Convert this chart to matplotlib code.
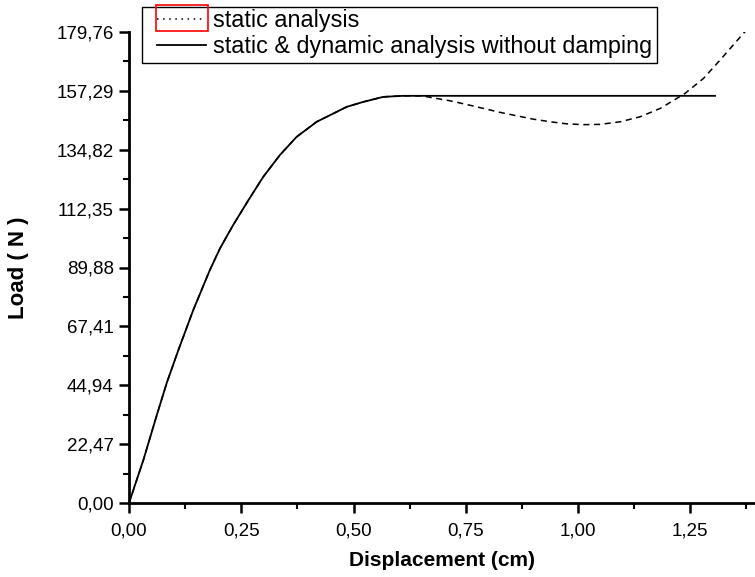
import matplotlib
matplotlib.use("Agg")
import matplotlib.pyplot as plt
from matplotlib.patches import Rectangle
from matplotlib.ticker import FixedLocator, MultipleLocator

# === DATA ===
rise_x = [0.0, 0.032, 0.062, 0.084, 0.110, 0.143, 0.180, 0.203, 0.232, 0.266,
          0.299, 0.336, 0.373, 0.418, 0.485, 0.522, 0.566, 0.610, 0.652]
rise_y = [0.0, 16.4, 33.6, 45.8, 58.4, 73.6, 88.9, 97.3, 106.1, 115.6,
          124.5, 132.8, 139.7, 145.5, 151.2, 153.1, 155.0, 155.4, 155.4]

# static analysis continues past the peak (softening, then stiffening)
static_x = [0.652, 0.678, 0.715, 0.752, 0.789, 0.826, 0.863, 0.900, 0.938,
            0.975, 1.012, 1.049, 1.094, 1.138, 1.183, 1.238, 1.279, 1.316, 1.368, 1.39]
static_y = [155.4, 154.6, 153.5, 152.1, 150.6, 149.1, 147.8, 146.5, 145.5,
            144.7, 144.4, 144.5, 145.5, 147.4, 150.6, 156.3, 162.0, 169.0, 179.2, 183.0]

# static & dynamic without damping stays flat at the limit load
dyn_x = rise_x + [1.305]
dyn_y = rise_y + [155.4]

x_ticks = [0.0, 0.25, 0.5, 0.75, 1.0, 1.25]
y_ticks = [0.0, 22.47, 44.94, 67.41, 89.88, 112.35, 134.82, 157.29, 179.76]

labels = ["static analysis", "static & dynamic analysis without damping"]

plt.rcParams['font.family'] = ['Liberation Sans', 'DejaVu Sans']

fig = plt.figure(figsize=(7.55, 5.77), dpi=100)
ax = fig.add_axes([129 / 755, 74 / 577, 1 - 129 / 755, (503 - 32) / 577])

# static curve (shares the rising branch with the other one)
ax.plot(rise_x + static_x[1:], rise_y + static_y[1:], color='black',
        linewidth=1.1, linestyle=(0, (4, 3)), label=labels[0])
ax.plot(dyn_x, dyn_y, color='black', linewidth=1.3, label=labels[1])

ax.set_xlim(0, 1.394)
ax.set_ylim(0, 179.76)

ax.xaxis.set_major_locator(FixedLocator(x_ticks))
ax.xaxis.set_minor_locator(MultipleLocator(0.125))
ax.set_xticklabels([f"{v:.2f}".replace('.', ',') for v in x_ticks])
ax.yaxis.set_major_locator(FixedLocator(y_ticks))
ax.yaxis.set_minor_locator(MultipleLocator(22.47 / 2))
ax.set_yticklabels([f"{v:.2f}".replace('.', ',') for v in y_ticks])

for side in ('top', 'right'):
    ax.spines[side].set_visible(False)
for side in ('left', 'bottom'):
    ax.spines[side].set_linewidth(2)
ax.spines['left'].set_bounds(0, 179.76)

ax.tick_params(which='major', direction='out', length=7, width=1.8,
               labelsize=13.5, pad=4)
ax.tick_params(which='minor', direction='out', length=4, width=1.5)
ax.tick_params(axis='x', pad=7)

ax.set_xlabel("Displacement (cm)", fontsize=15, fontweight='bold', labelpad=8)
ax.set_ylabel("Load ( N )", fontsize=16, fontweight='bold', labelpad=20)

leg = ax.legend(loc='upper left', bbox_to_anchor=(157 / 755, 1 - 9 / 577),
                bbox_transform=fig.transFigure, fontsize=16.8, frameon=False,
                handlelength=2.1, handletextpad=0.3,
                labelspacing=0.15, borderpad=0.0, borderaxespad=0)
leg.legend_handles[0].set_linestyle((0, (1, 3)))

# legend frame and the red selection box around the first handle
fig.canvas.draw()
renderer = fig.canvas.get_renderer()
lb = leg.get_window_extent(renderer)
fig.patches.append(Rectangle((lb.x0 - 15, lb.y0 - 4), lb.width + 20, lb.height + 6,
                             transform=None, fill=False, edgecolor='black',
                             linewidth=1.0))
hb = leg.legend_handles[0].get_window_extent(renderer)
fig.patches.append(Rectangle((hb.x0 - 1, hb.y0 - 12), hb.width + 3, 26,
                             transform=None, fill=False, edgecolor='red',
                             linewidth=1.2))

fig.savefig("out.png", dpi=100)
